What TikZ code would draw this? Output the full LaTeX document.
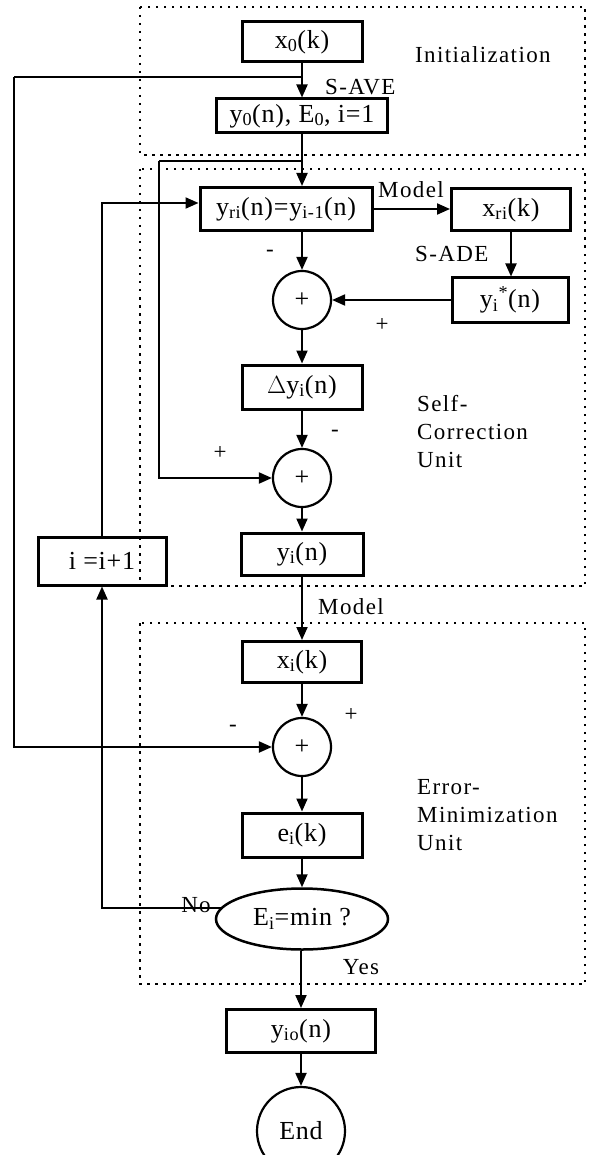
\documentclass[tikz,border=0pt]{standalone}
\usepackage{fontspec}
\setmainfont{Liberation Serif}
\usetikzlibrary{arrows.meta,shapes.geometric}
\newfontfamily\bxfam{Liberation Serif}[LetterSpace=3]
\newfontfamily\lbfam{Liberation Serif}[LetterSpace=6]
\newcommand\bxfont{\bxfam\fontsize{26}{30}\selectfont}
\newcommand\lbfont{\lbfam\fontsize{23}{28}\selectfont}
\tikzset{
  box/.style={draw, line width=3pt, inner sep=0pt, font=\bxfont},
  sumnode/.style={draw, circle, line width=2.2pt, minimum size=58pt, inner sep=0pt, font=\bxfont},
  lbl/.style={font=\lbfont, inner sep=0pt},
  conn/.style={line width=2pt, -{Triangle[length=13pt,width=11pt]}},
  wire/.style={line width=1.8pt},
  region/.style={line width=2.4pt, dash pattern=on 2.5pt off 5.5pt},
}
\begin{document}
\begin{tikzpicture}[x=1pt,y=-1pt]
\useasboundingbox (0,0) rectangle (589,1155);

% dotted unit frames
\draw[region] (140,7) rectangle (585,155);
\draw[region] (140,169) rectangle (585,586);
\draw[region] (140,623) rectangle (585,984);

% initialization
\node[box, minimum width=120pt, minimum height=40pt] (x0) at (302,42) {x\textsubscript{0}(k)};
\node[box, minimum width=171pt, minimum height=34pt] (y0) at (302,116) {y\textsubscript{0}(n), E\textsubscript{0}, i=1};

% self-correction unit
\node[box, minimum width=172pt, minimum height=43pt] (yri) at (286,209) {y\textsubscript{ri}(n)=y\textsubscript{i-1}(n)};
\node[box, minimum width=119pt, minimum height=42pt] (xri) at (511,210) {x\textsubscript{ri}(k)};
\node[box, minimum width=116pt, minimum height=44pt] (yis) at (510,300) {y\textsubscript{i}\textsuperscript{*}(n)};
\node[sumnode] (c1) at (302,300) {+};
\node[box, minimum width=120pt, minimum height=44pt] (dy) at (302,387) {$\Delta$y\textsubscript{i}(n)};
\node[sumnode] (c2) at (302,478) {+};
\node[box, minimum width=122pt, minimum height=42pt] (yi) at (302,554) {y\textsubscript{i}(n)};
\node[box, minimum width=128pt, minimum height=48pt] (iinc) at (102,561) {i =i+1};

% error-minimization unit
\node[box, minimum width=119pt, minimum height=41pt] (xi) at (302,662) {x\textsubscript{i}(k)};
\node[sumnode] (c3) at (302,747) {+};
\node[box, minimum width=120pt, minimum height=44pt] (ei) at (302,835) {e\textsubscript{i}(k)};
\node[draw, ellipse, line width=2.5pt, minimum width=172pt, minimum height=61pt, inner sep=0pt, font=\bxfont] (ell) at (302,919) {E\textsubscript{i}=min ?};

% result
\node[box, minimum width=149pt, minimum height=43pt] (yio) at (301,1031) {y\textsubscript{io}(n)};
\node[draw, circle, line width=2.2pt, minimum size=88pt, inner sep=0pt, font=\bxfont] (end) at (301,1131) {End};

% branch points
\coordinate (j1) at (302,77);
\coordinate (ol) at (14,77);
\coordinate (j2) at (302,161);
\coordinate (fl) at (159,161);

% connectors
\draw[conn] (x0.south) -- (y0.north);
\draw[wire] (j1) -- (ol);
\draw[conn] (ol) |- (c3.west);
\draw[conn] (y0.south) -- (y0.south |- yri.north);
\draw[wire] (j2) -- (fl);
\draw[conn] (fl) |- (c2.west);
\draw[conn] (yri.east) -- (yri.east -| xri.west);
\draw[conn] (xri.south) -- (xri.south |- yis.north);
\draw[conn] (yis.west) -- (c1.east);
\draw[conn] (c1.north |- yri.south) -- (c1.north);
\draw[conn] (c1.south) -- (dy.north);
\draw[conn] (dy.south) -- (c2.north);
\draw[conn] (c2.south) -- (yi.north);
\draw[conn] (yi.south) -- (xi.north);
\draw[conn] (xi.south) -- (c3.north);
\draw[conn] (c3.south) -- (ei.north);
\draw[conn] (ei.south) -- (ell.north);
\draw[conn] (yio.north |- ell.south) -- (yio.north);
\draw[conn] (yio.south) -- (end.north);
\draw[conn] (ell.172) -| (iinc.south);
\draw[conn] (iinc.north) |- ([yshift=6pt]yri.west);

% labels
\node[lbl, anchor=west] (lsave) at (325,87) {S-AVE};
\node[lbl, anchor=west] (linit) at (415,55) {Initialization};
\node[lbl, anchor=west] (lmod1) at (378,190) {Model};
\node[lbl, anchor=west] (lsade) at (415,254) {S-ADE};
\node[lbl] (m1) at (270,253) {-};
\node[lbl] (p1) at (382,325) {+};
\node[lbl] (m2) at (335,433) {-};
\node[lbl] (p2) at (220,453) {+};
\node[lbl, anchor=north west, align=left] (lsc) at (417,395) {Self-\\Correction\\Unit};
\node[lbl, anchor=west] (lmod2) at (318,607) {Model};
\node[lbl] (p3) at (351,715) {+};
\node[lbl] (m3) at (233,728) {-};
\node[lbl, anchor=north west, align=left] (lem) at (417,779) {Error-\\Minimization\\Unit};
\node[lbl] (lno) at (196,905) {No};
\node[lbl] (lyes) at (361,967) {Yes};
\end{tikzpicture}
\end{document}
